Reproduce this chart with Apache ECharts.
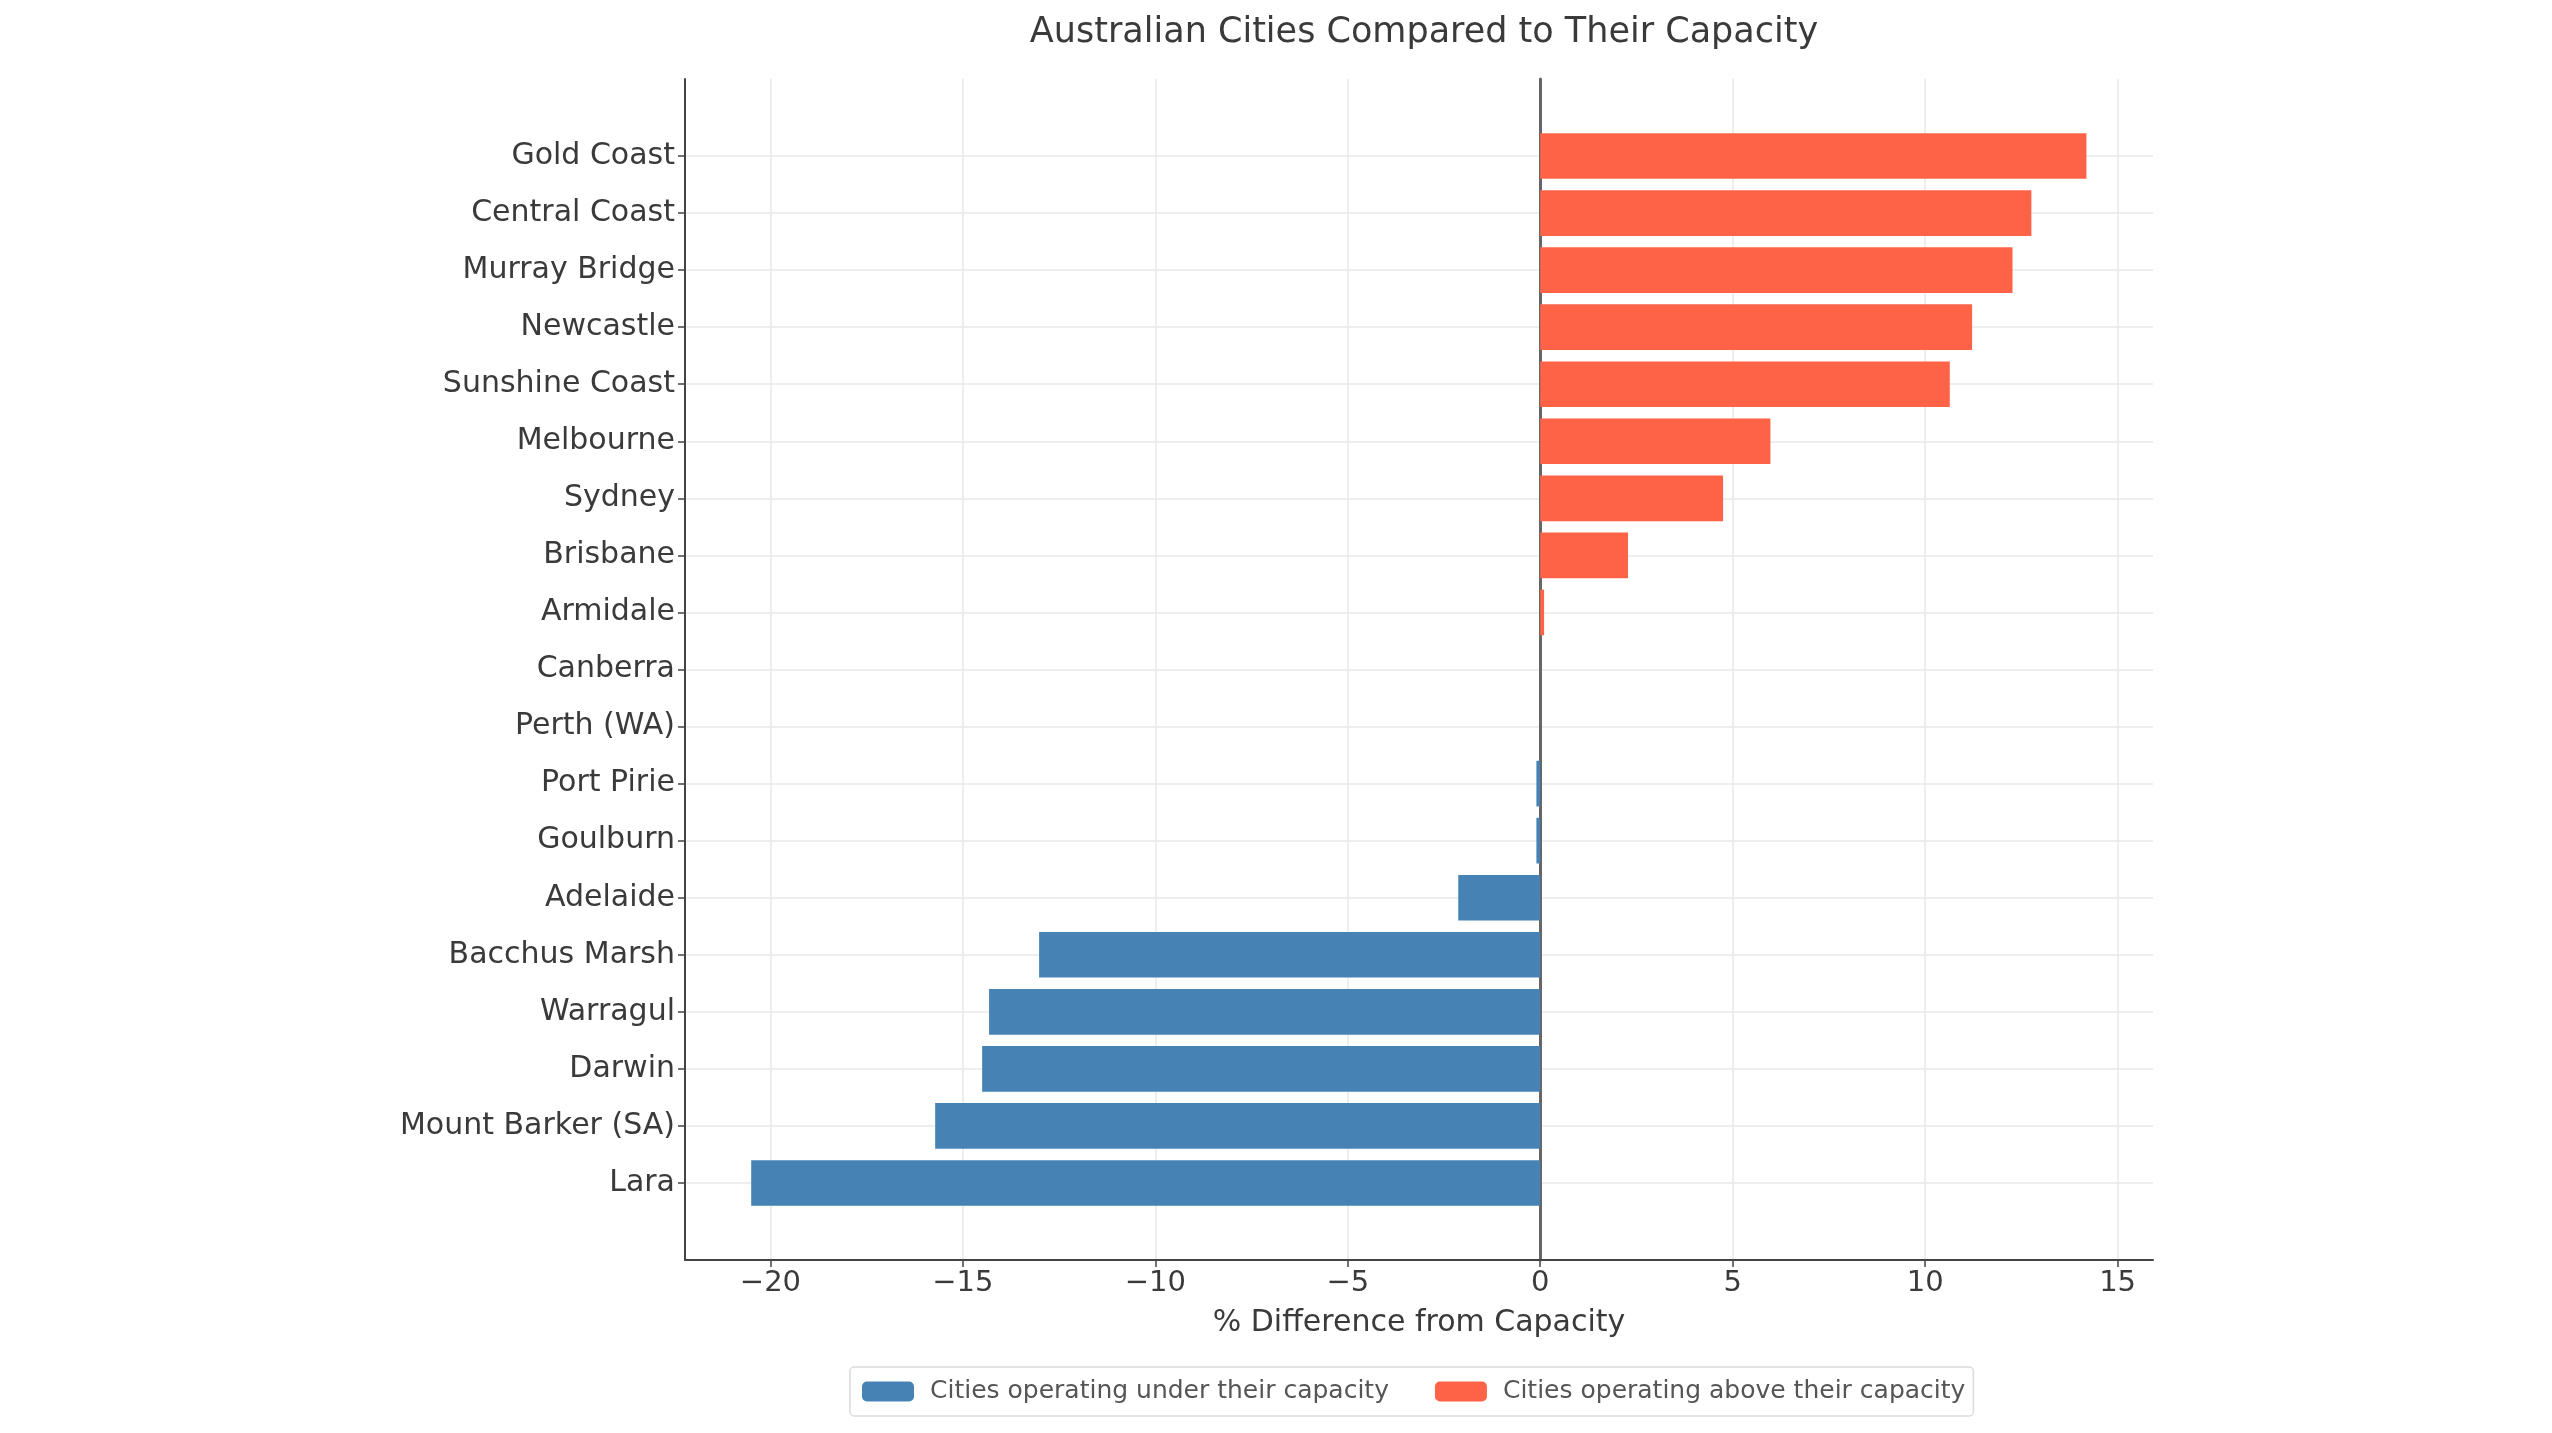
<!DOCTYPE html>
<html>
<head>
<meta charset="utf-8">
<script src="https://cdn.jsdelivr.net/npm/echarts@6/dist/echarts.min.js"></script>
<style>
html,body{margin:0;padding:0;background:#fff;}
#chart{width:2552px;height:1433px;}
</style>
</head>
<body>
<div id="chart"></div>
<script>
const cities = ['Gold Coast','Central Coast','Murray Bridge','Newcastle','Sunshine Coast','Melbourne','Sydney','Brisbane','Armidale','Canberra','Perth (WA)','Port Pirie','Goulburn','Adelaide','Bacchus Marsh','Warragul','Darwin','Mount Barker (SA)','Lara'];
const diffs = [14.19, 12.76, 12.27, 11.22, 10.64, 5.98, 4.75, 2.28, 0.1, 0, 0, -0.1, -0.1, -2.13, -13.02, -14.32, -14.5, -15.72, -20.5];
const xTicks = [-20, -15, -10, -5, 0, 5, 10, 15];
const seriesNames = ['Cities operating under their capacity', 'Cities operating above their capacity'];
const seriesColors = ['#4682B4', '#FF6347'];

const underVals = diffs.map(v => v < 0 ? v : '-');
const aboveVals = diffs.map(v => v >= 0 ? v : '-');

const XMIN = -22.22, XMAX = 15.92;
const FONT = 'DejaVu Sans';
const TXT = '#3a3a3a';

const chart = echarts.init(document.getElementById('chart'), null, {renderer: 'canvas'});
chart.setOption({
  animation: false,
  backgroundColor: '#ffffff',
  textStyle: {fontFamily: FONT},
  title: {
    text: 'Australian Cities Compared to Their Capacity',
    left: 1419, top: 10, textAlign: 'center',
    textStyle: {fontFamily: FONT, fontSize: 35, fontWeight: 'normal', color: TXT}
  },
  legend: {
    data: seriesNames,
    left: 850, top: 1367,
    itemWidth: 52, itemHeight: 20, itemGap: 46,
    padding: [12, 8, 12, 12],
    borderColor: '#dcdcdc', borderWidth: 1.5, borderRadius: 4,
    backgroundColor: '#fff',
    textStyle: {fontFamily: FONT, fontSize: 25, color: '#555', padding: [0, 0, 0, 11]}
  },
  grid: [
    {left: 685, right: 399, top: 156, height: 1027, containLabel: false},
    {left: 685, right: 399, top: 79, bottom: 173, containLabel: false}
  ],
  xAxis: [
    {gridIndex: 0, type: 'value', min: XMIN, max: XMAX, show: false},
    {
      gridIndex: 1, type: 'value', min: XMIN, max: XMAX,
      name: '% Difference from Capacity', nameLocation: 'middle', nameGap: 48,
      nameTextStyle: {fontFamily: FONT, fontSize: 30, color: TXT},
      axisLine: {show: true, onZero: false, lineStyle: {color: '#444', width: 2}},
      axisTick: {show: true, customValues: xTicks, length: 7, lineStyle: {color: '#444', width: 1.5}},
      axisLabel: {customValues: xTicks, fontFamily: FONT, fontSize: 29, color: TXT, margin: 9,
        formatter: v => (v < 0 ? '\u2212' + Math.abs(v) : String(v))},
      splitLine: {show: true, lineStyle: {color: '#e8e8e8', width: 1.5}}
    }
  ],
  yAxis: [
    {
      gridIndex: 0, type: 'category', data: cities, inverse: true, boundaryGap: false,
      axisLine: {show: false, onZero: false},
      axisTick: {show: true, length: 7, lineStyle: {color: '#444', width: 1.5}},
      axisLabel: {fontFamily: FONT, fontSize: 30, color: TXT, margin: 10, padding: [6, 0, 0, 0]},
      splitLine: {show: true, lineStyle: {color: '#e8e8e8', width: 1.5}}
    },
    {
      gridIndex: 1, type: 'value', min: 0, max: 1, position: 'left',
      axisLine: {show: true, onZero: false, lineStyle: {color: '#444', width: 2}},
      axisTick: {show: false}, axisLabel: {show: false}, splitLine: {show: false}
    },
    {
      gridIndex: 1, type: 'value', min: 0, max: 1, position: 'left',
      axisLine: {show: true, onZero: true, lineStyle: {color: '#666', width: 3}},
      axisTick: {show: false}, axisLabel: {show: false}, splitLine: {show: false}
    }
  ],
  series: [
    {
      name: seriesNames[0], type: 'bar', xAxisIndex: 0, yAxisIndex: 0, stack: 'cap',
      data: underVals, barWidth: '80%', itemStyle: {color: seriesColors[0]}, z: 3
    },
    {
      name: seriesNames[1], type: 'bar', xAxisIndex: 0, yAxisIndex: 0, stack: 'cap',
      data: aboveVals, barWidth: '80%', itemStyle: {color: seriesColors[1]}, z: 3
    }
  ]
});
</script>
</body>
</html>
